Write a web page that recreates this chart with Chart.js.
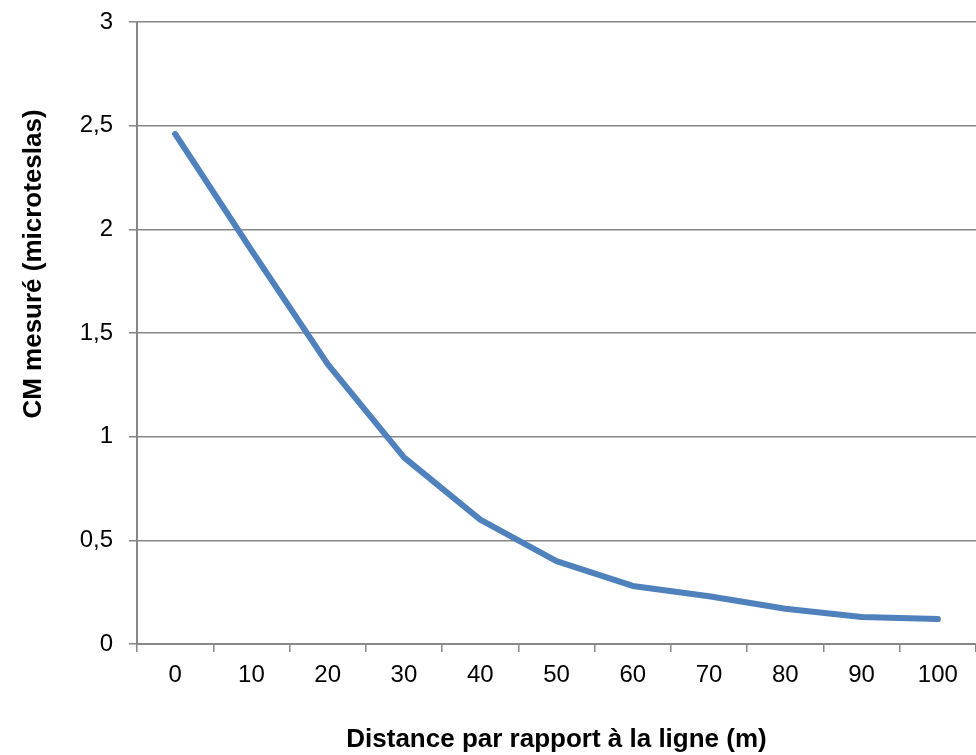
<!DOCTYPE html>
<html>
<head>
<meta charset="utf-8">
<script src="https://cdn.jsdelivr.net/npm/chart.js@4"></script>
<style>
    html, body { margin: 0; padding: 0; background: #fff; }
    #wrap { width: 976px; height: 755px; }
</style>
</head>
<body>
<div id="wrap"><canvas id="cmChart"></canvas></div>
<script>
// Champ magnétique mesuré en fonction de la distance
const distances = ['0', '10', '20', '30', '40', '50', '60', '70', '80', '90', '100'];
const cmValues = [2.46, 1.9, 1.35, 0.9, 0.6, 0.4, 0.28, 0.23, 0.17, 0.13, 0.12];
const yTicks = [0, 0.5, 1, 1.5, 2, 2.5, 3];
const yTitle = 'CM mesuré (microteslas)';
const xTitle = 'Distance par rapport à la ligne (m)';

const FONT = "'Liberation Sans', Arial, sans-serif";
const GRID = '#878787';

// y title sits above the middle of the plot, like the Excel original
const yTitlePlugin = {
    id: 'yTitle',
    afterDraw(chart) {
        const { ctx, chartArea } = chart;
        const cy = (chartArea.top + chartArea.bottom) / 2 - 69;
        ctx.save();
        ctx.translate(34, cy);
        ctx.rotate(-Math.PI / 2);
        ctx.font = 'bold 26px ' + FONT;
        ctx.fillStyle = '#000';
        ctx.textAlign = 'center';
        ctx.textBaseline = 'middle';
        ctx.fillText(yTitle, 0, 0);
        ctx.restore();
    }
};

document.addEventListener('DOMContentLoaded', () => {
    const ctx = document.getElementById('cmChart');
    new Chart(ctx, {
        type: 'line',
        data: {
            labels: distances,
            datasets: [{
                label: 'CM mesuré',
                data: cmValues,
                borderColor: '#4F81BD',
                borderWidth: 6,
                borderCapStyle: 'round',
                borderJoinStyle: 'round',
                pointRadius: 0,
                tension: 0,
                fill: false
            }]
        },
        options: {
            responsive: true,
            maintainAspectRatio: false,
            animation: false,
            layout: {
                padding: { top: 22, right: 0, bottom: 0, left: 0 }
            },
            plugins: {
                legend: { display: false },
                tooltip: { enabled: false }
            },
            scales: {
                x: {
                    offset: true,
                    afterFit: function(scale) {
                        scale.height = 111;
                        scale.paddingRight = 0;
                    },
                    grid: {
                        offset: true,
                        drawOnChartArea: false,
                        drawTicks: true,
                        tickLength: 8,
                        color: GRID,
                        lineWidth: 1.5
                    },
                    border: { color: GRID, width: 2 },
                    ticks: {
                        color: '#000',
                        padding: 9,
                        maxRotation: 0,
                        font: { family: FONT, size: 24 }
                    },
                    title: {
                        display: true,
                        text: xTitle,
                        color: '#000',
                        padding: { top: 0, bottom: 0 },
                        font: { family: FONT, size: 26, weight: 'bold' }
                    }
                },
                y: {
                    min: 0,
                    max: 3,
                    afterFit: function(scale) {
                        scale.width = 137;
                        scale.paddingTop = 0;
                        scale.paddingBottom = 0;
                    },
                    afterBuildTicks: function(scale) {
                        scale.ticks = yTicks.map(v => ({ value: v }));
                    },
                    grid: {
                        color: GRID,
                        lineWidth: 1.5,
                        tickLength: 8
                    },
                    border: { color: GRID, width: 2 },
                    ticks: {
                        color: '#000',
                        padding: 16,
                        callback: function(value) {
                            return String(value).replace('.', ',');
                        },
                        font: { family: FONT, size: 24 }
                    },
                    title: { display: false, text: yTitle }
                }
            }
        },
        plugins: [yTitlePlugin]
    });
});
</script>
</body>
</html>
